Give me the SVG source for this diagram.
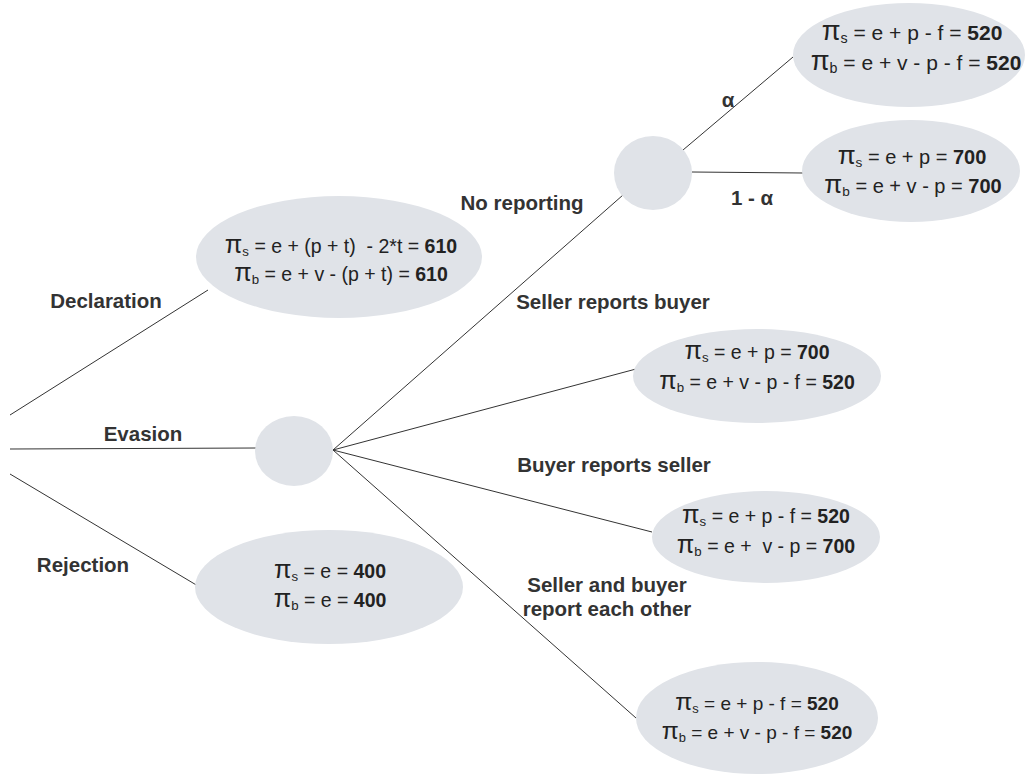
<svg xmlns="http://www.w3.org/2000/svg" width="1029" height="775" viewBox="0 0 1029 775">
<style>
.n{fill:#e0e3e8;stroke:none}
.c line{stroke:#333;stroke-width:1}
.f{font-family:"Liberation Sans",Arial,sans-serif;font-size:19.5px;fill:#222;text-anchor:middle;white-space:pre}
.f .b{font-weight:bold}
.f .p{font-size:1.3em}
.f .s{font-size:0.68em}
.l{font-family:"Liberation Sans",Arial,sans-serif;font-size:20.5px;font-weight:bold;fill:#333;text-anchor:middle}
</style>
<rect width="1029" height="775" fill="#fff"/>
<g id="connectors" class="c">
<line x1="10" y1="415" x2="208" y2="290"/>
<line x1="10" y1="449" x2="256" y2="448"/>
<line x1="10" y1="474" x2="198" y2="586"/>
<line x1="333" y1="450" x2="623" y2="195"/>
<line x1="333" y1="450" x2="636" y2="369"/>
<line x1="333" y1="450" x2="652" y2="532"/>
<line x1="333" y1="450" x2="636" y2="718"/>
<line x1="683" y1="150" x2="793" y2="57"/>
<line x1="692" y1="172" x2="803" y2="173"/>
</g>
<g id="labels">
<text class="l" x="106" y="308">Declaration</text>
<text class="l" x="143" y="441">Evasion</text>
<text class="l" x="83" y="572">Rejection</text>
<text class="l" x="522" y="210">No reporting</text>
<text class="l" x="728" y="107">α</text>
<text class="l" x="752" y="205">1 - α</text>
<text class="l" x="613" y="309">Seller reports buyer</text>
<text class="l" x="614" y="472">Buyer reports seller</text>
<text class="l" x="607" y="592">Seller and buyer</text>
<text class="l" x="607" y="616">report each other</text>
</g>
<g id="declaration">
<ellipse class="n" cx="339" cy="257" rx="143" ry="61"/>
<text class="f" x="341" y="253" xml:space="preserve"><tspan class="p">π</tspan><tspan class="s" dy="3">s</tspan><tspan dy="-3"> = e + (p + t)  - 2*t = </tspan><tspan class="b">610</tspan></text>
<text class="f" x="341" y="281" xml:space="preserve"><tspan class="p">π</tspan><tspan class="s" dy="3">b</tspan><tspan dy="-3"> = e + v - (p + t) = </tspan><tspan class="b">610</tspan></text>
</g>
<g id="evasion">
<ellipse class="n" cx="294" cy="451" rx="39" ry="35"/>
</g>
<g id="rejection">
<ellipse class="n" cx="329" cy="587" rx="134" ry="57"/>
<text class="f" x="330" y="578"><tspan class="p">π</tspan><tspan class="s" dy="3">s</tspan><tspan dy="-3"> = e = </tspan><tspan class="b">400</tspan></text>
<text class="f" x="330" y="607"><tspan class="p">π</tspan><tspan class="s" dy="3">b</tspan><tspan dy="-3"> = e = </tspan><tspan class="b">400</tspan></text>
</g>
<g id="noreporting">
<ellipse class="n" cx="653" cy="173" rx="39" ry="37"/>
</g>
<g id="alpha">
<ellipse class="n" cx="909" cy="55" rx="116" ry="52"/>
<text class="f" x="912" y="40" style="font-size:21px"><tspan class="p">π</tspan><tspan class="s" dy="3">s</tspan><tspan dy="-3"> = e + p - f = </tspan><tspan class="b">520</tspan></text>
<text class="f" x="916" y="70" style="font-size:21px"><tspan class="p">π</tspan><tspan class="s" dy="3">b</tspan><tspan dy="-3"> = e + v - p - f = </tspan><tspan class="b">520</tspan></text>
</g>
<g id="oneminusalpha">
<ellipse class="n" cx="911" cy="171" rx="109" ry="51"/>
<text class="f" x="912" y="164" style="font-size:20px"><tspan class="p">π</tspan><tspan class="s" dy="3">s</tspan><tspan dy="-3"> = e + p = </tspan><tspan class="b">700</tspan></text>
<text class="f" x="913" y="193" style="font-size:20px"><tspan class="p">π</tspan><tspan class="s" dy="3">b</tspan><tspan dy="-3"> = e + v - p = </tspan><tspan class="b">700</tspan></text>
</g>
<g id="sellerreports">
<ellipse class="n" cx="757" cy="376" rx="124" ry="47"/>
<text class="f" x="757" y="359"><tspan class="p">π</tspan><tspan class="s" dy="3">s</tspan><tspan dy="-3"> = e + p = </tspan><tspan class="b">700</tspan></text>
<text class="f" x="757" y="389"><tspan class="p">π</tspan><tspan class="s" dy="3">b</tspan><tspan dy="-3"> = e + v - p - f = </tspan><tspan class="b">520</tspan></text>
</g>
<g id="buyerreports">
<ellipse class="n" cx="766" cy="537" rx="114" ry="46"/>
<text class="f" x="766" y="523"><tspan class="p">π</tspan><tspan class="s" dy="3">s</tspan><tspan dy="-3"> = e + p - f = </tspan><tspan class="b">520</tspan></text>
<text class="f" x="766" y="553" xml:space="preserve"><tspan class="p">π</tspan><tspan class="s" dy="3">b</tspan><tspan dy="-3"> = e +  v - p = </tspan><tspan class="b">700</tspan></text>
</g>
<g id="bothreport">
<ellipse class="n" cx="757" cy="718" rx="121" ry="56"/>
<text class="f" x="757" y="710" style="font-size:19px"><tspan class="p">π</tspan><tspan class="s" dy="3">s</tspan><tspan dy="-3"> = e + p - f = </tspan><tspan class="b">520</tspan></text>
<text class="f" x="757" y="739" style="font-size:19px"><tspan class="p">π</tspan><tspan class="s" dy="3">b</tspan><tspan dy="-3"> = e + v - p - f = </tspan><tspan class="b">520</tspan></text>
</g>
</svg>
